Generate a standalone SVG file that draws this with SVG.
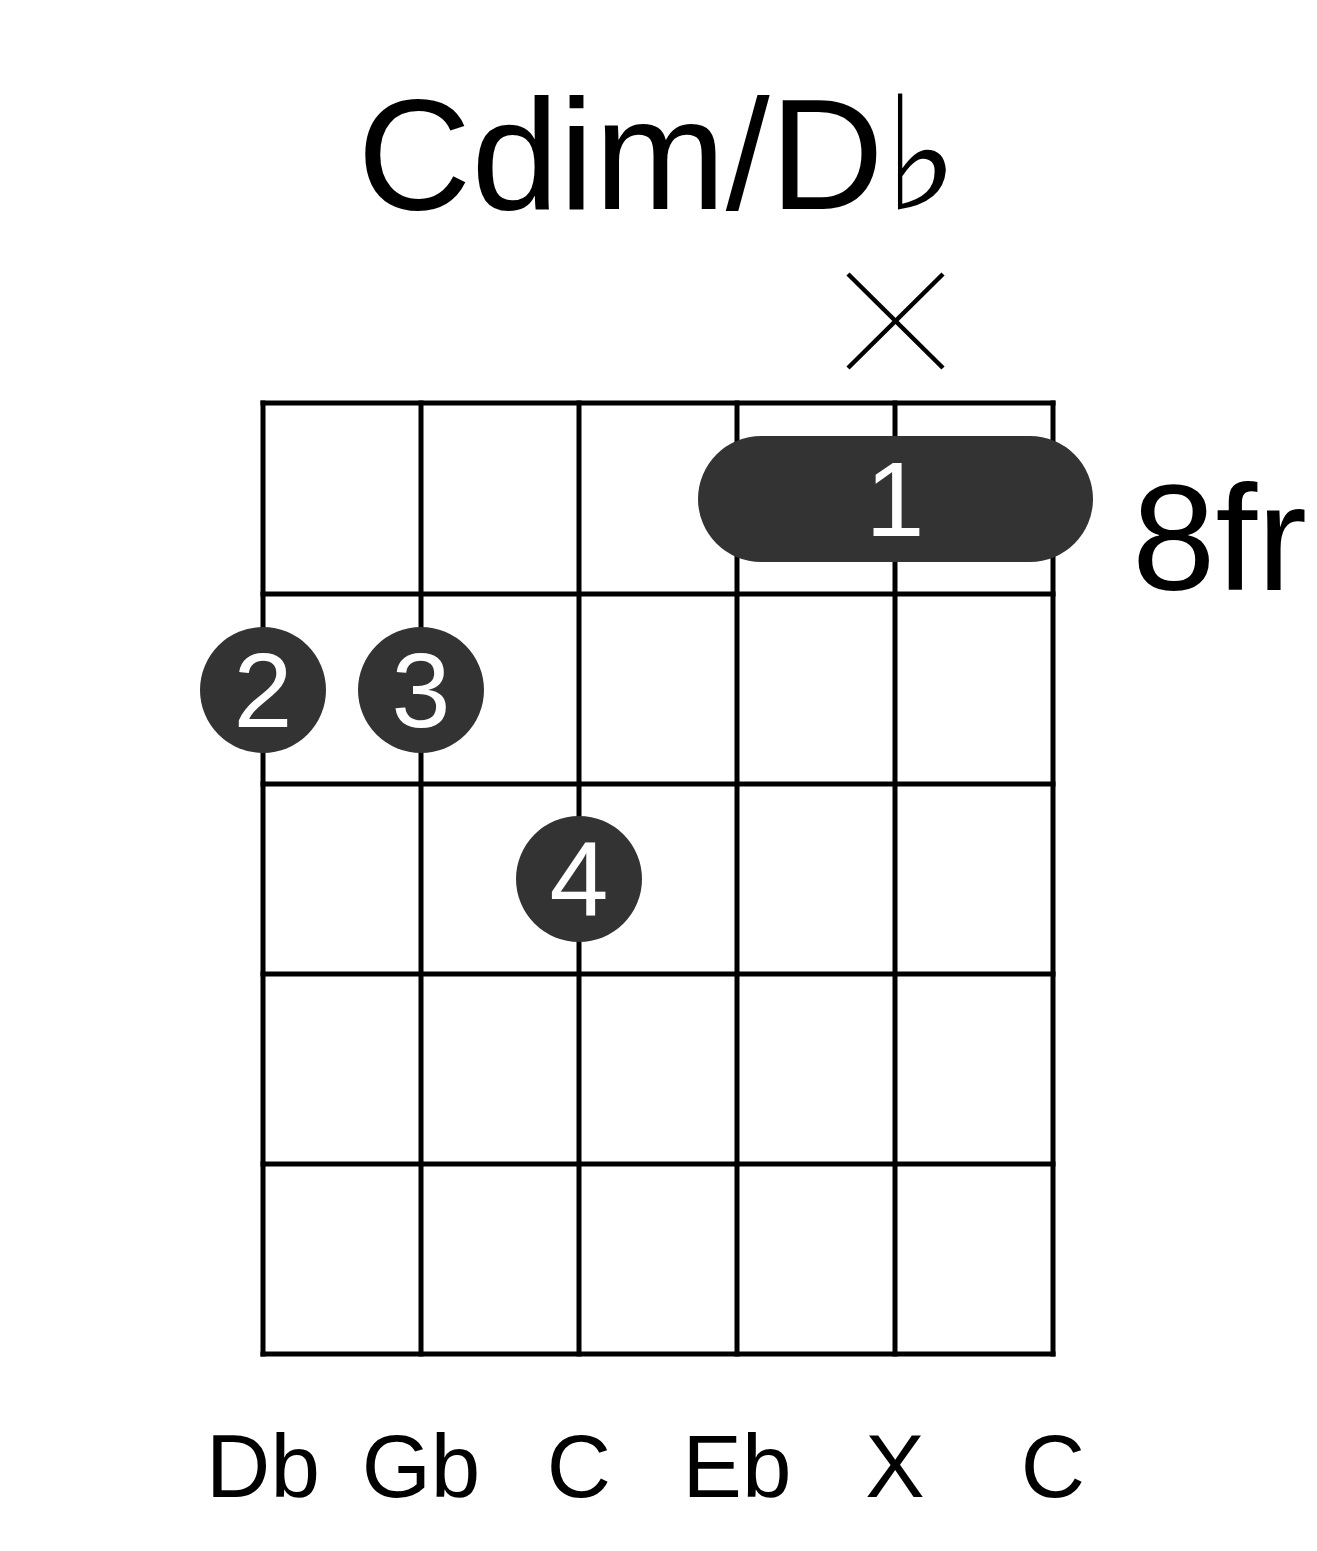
<svg xmlns="http://www.w3.org/2000/svg" width="1317" height="1551" viewBox="0 0 1317 1551">
<style>
.grid line{stroke:#000;stroke-width:5;stroke-linecap:square}
.dot{fill:#333333}
.fnum{fill:#fff;font-family:"Liberation Sans",Arial,sans-serif;font-size:106px;text-anchor:middle}
.lbl{fill:#000;font-family:"Liberation Sans",Arial,sans-serif;font-size:89px;text-anchor:middle}
</style>
<rect width="1317" height="1551" fill="#fff"/>
<g id="title"><text x="658" y="209" font-family="Liberation Sans, Arial, sans-serif" font-size="158" text-anchor="middle">Cdim/D♭</text></g>
<g id="mute"><line x1="848" y1="274" x2="943" y2="368" stroke="#000" stroke-width="4.5"/><line x1="943" y1="274" x2="848" y2="368" stroke="#000" stroke-width="4.5"/></g>
<g id="grid" class="grid">
<line x1="263" y1="403" x2="1053" y2="403"/>
<line x1="263" y1="594" x2="1053" y2="594"/>
<line x1="263" y1="784" x2="1053" y2="784"/>
<line x1="263" y1="974" x2="1053" y2="974"/>
<line x1="263" y1="1164" x2="1053" y2="1164"/>
<line x1="263" y1="1354" x2="1053" y2="1354"/>
<line x1="263" y1="403" x2="263" y2="1354"/>
<line x1="421" y1="403" x2="421" y2="1354"/>
<line x1="579" y1="403" x2="579" y2="1354"/>
<line x1="737" y1="403" x2="737" y2="1354"/>
<line x1="895" y1="403" x2="895" y2="1354"/>
<line x1="1053" y1="403" x2="1053" y2="1354"/>
</g>
<g id="barre"><rect class="dot" x="698" y="436" width="395" height="126" rx="63" ry="63"/><text class="fnum" x="895" y="536">1</text></g>
<g id="finger2"><circle class="dot" cx="263" cy="690" r="63"/><text class="fnum" x="263" y="727">2</text></g>
<g id="finger3"><circle class="dot" cx="421" cy="690" r="63"/><text class="fnum" x="421" y="727">3</text></g>
<g id="finger4"><circle class="dot" cx="579" cy="879" r="63"/><text class="fnum" x="579" y="916">4</text></g>
<g id="fret"><text x="1132" y="590" font-family="Liberation Sans, Arial, sans-serif" font-size="150">8fr</text></g>
<g id="notes">
<text class="lbl" x="263" y="1497">Db</text>
<text class="lbl" x="421" y="1497">Gb</text>
<text class="lbl" x="579" y="1497">C</text>
<text class="lbl" x="737" y="1497">Eb</text>
<text class="lbl" x="895" y="1497">X</text>
<text class="lbl" x="1053" y="1497">C</text>
</g>
<g id="connectors"/>
</svg>
